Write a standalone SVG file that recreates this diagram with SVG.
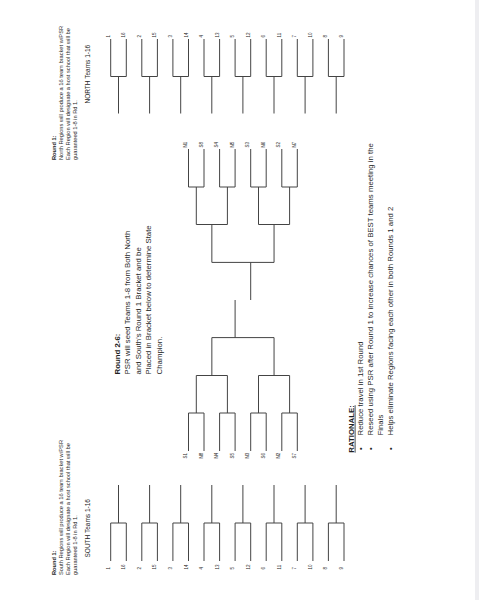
<svg xmlns="http://www.w3.org/2000/svg" width="479" height="600" viewBox="0 0 479 600">
<style>
text{font-family:"Liberation Sans",Arial,sans-serif;fill:#1f1f1f}
.lab{font-size:4.5px}
.sm{font-size:5.7px}
.team{font-size:6.5px}
.md{font-size:7.8px}
.b{font-weight:bold}
.ln{fill:none;stroke:#444;stroke-width:1}
</style>
<rect x="0" y="0" width="479" height="600" fill="#ffffff"/>
<rect x="475" y="0" width="4" height="600" fill="#eeeef1"/>

<g id="north-text">
<text class="sm b" transform="translate(55.5 160) rotate(-90)">Round 1:</text>
<text class="sm" transform="translate(62.5 160) rotate(-90)">North Regions will produce a 16 team bracket w/PSR</text>
<text class="sm" transform="translate(69.5 160) rotate(-90)">Each Region will designate a host school that will be</text>
<text class="sm" transform="translate(76.5 160) rotate(-90)">guaranteed 1-8 in Rd 1.</text>
<text class="team" transform="translate(90.3 103.5) rotate(-90)">NORTH Teams 1-16</text>
</g>

<g id="south-text">
<text class="sm b" transform="translate(55.5 575) rotate(-90)">Round 1:</text>
<text class="sm" transform="translate(62.5 575) rotate(-90)">South Regions will produce a 16 team bracket w/PSR</text>
<text class="sm" transform="translate(69.5 575) rotate(-90)">Each Region will designate a host school that will be</text>
<text class="sm" transform="translate(76.5 575) rotate(-90)">guaranteed 1-8 in Rd 1.</text>
<text class="team" transform="translate(90.3 557.5) rotate(-90)">SOUTH Teams 1-16</text>
</g>

<g id="round26-text">
<text class="md b" transform="translate(119.5 374.4) rotate(-90)">Round 2-6:</text>
<text class="md" transform="translate(130 374.4) rotate(-90)">PSR will seed Teams 1-8 from Both North</text>
<text class="md" transform="translate(140.5 374.4) rotate(-90)">and South's Round 1 Bracket and be</text>
<text class="md" transform="translate(151 374.4) rotate(-90)">Placed in Bracket below to determine State</text>
<text class="md" transform="translate(161.5 374.4) rotate(-90)">Champion.</text>
</g>

<g id="rationale">
<text class="md b" text-decoration="underline" transform="translate(353.7 452.7) rotate(-90)">RATIONALE:</text>
<text class="md" transform="translate(362.7 450) rotate(-90)">•</text>
<text class="md" transform="translate(362.7 435.5) rotate(-90)">Reduce travel in 1st Round</text>
<text class="md" transform="translate(372.7 450) rotate(-90)">•</text>
<text class="md" transform="translate(372.7 435.5) rotate(-90)">Reseed using PSR after Round 1 to increase chances of BEST teams meeting in the</text>
<text class="md" transform="translate(382.7 435.5) rotate(-90)">Finals</text>
<text class="md" transform="translate(392.7 450) rotate(-90)">•</text>
<text class="md" transform="translate(392.7 435.5) rotate(-90)">Helps eliminate Regions facing each other in both Rounds 1 and 2</text>
</g>

<g id="connectors">
<g id="north-bracket">
<path class="ln" d="M110.7 39V76.5H126.3V39M118.5 76.5V113.5"/>
<path class="ln" d="M141.8 39V76.5H157.4V39M149.6 76.5V113.5"/>
<path class="ln" d="M172.9 39V76.5H188.5V39M180.7 76.5V113.5"/>
<path class="ln" d="M204 39V76.5H219.6V39M211.8 76.5V113.5"/>
<path class="ln" d="M235.1 39V76.5H250.7V39M242.9 76.5V113.5"/>
<path class="ln" d="M266.2 39V76.5H281.8V39M274 76.5V113.5"/>
<path class="ln" d="M297.3 39V76.5H312.9V39M305.1 76.5V113.5"/>
<path class="ln" d="M328.4 39V76.5H344V39M336.2 76.5V113.5"/>
</g>
<g id="south-bracket">
<path class="ln" d="M110.7 561V523H126.3V561M118.5 523V485"/>
<path class="ln" d="M141.8 561V523H157.4V561M149.6 523V485"/>
<path class="ln" d="M172.9 561V523H188.5V561M180.7 523V485"/>
<path class="ln" d="M204 561V523H219.6V561M211.8 523V485"/>
<path class="ln" d="M235.1 561V523H250.7V561M242.9 523V485"/>
<path class="ln" d="M266.2 561V523H281.8V561M274 523V485"/>
<path class="ln" d="M297.3 561V523H312.9V561M305.1 523V485"/>
<path class="ln" d="M328.4 561V523H344V561M336.2 523V485"/>
</g>
<g id="center-top-bracket">
<path class="ln" d="M188.5 149V187H204V149M219.6 149V187H235.1V149M250.7 149V187H266.2V149M281.8 149V187H297.3V149"/>
<path class="ln" d="M196.3 187V224.5H227.4V187M258.5 187V224.5H289.6V187"/>
<path class="ln" d="M211.85 224.5V262.4H274.05V224.5"/>
<path class="ln" d="M250.7 262.4V300"/>
</g>
<g id="center-bottom-bracket">
<path class="ln" d="M188.5 451V413H204V451M219.6 451V413H235.1V451M250.7 451V413H266.2V451M281.8 451V413H297.3V451"/>
<path class="ln" d="M196.3 413V375.5H227.4V413M258.5 413V375.5H289.6V413"/>
<path class="ln" d="M211.85 375.5V337.6H274.05V375.5"/>
<path class="ln" d="M235.1 337.6V300"/>
</g>
</g>

<g id="north-labels" class="lab">
<text transform="translate(109.7 37.5) rotate(-90)">1</text>
<text transform="translate(125.3 37.5) rotate(-90)">16</text>
<text transform="translate(140.8 37.5) rotate(-90)">2</text>
<text transform="translate(156.4 37.5) rotate(-90)">15</text>
<text transform="translate(171.9 37.5) rotate(-90)">3</text>
<text transform="translate(187.5 37.5) rotate(-90)">14</text>
<text transform="translate(203 37.5) rotate(-90)">4</text>
<text transform="translate(218.6 37.5) rotate(-90)">13</text>
<text transform="translate(234.1 37.5) rotate(-90)">5</text>
<text transform="translate(249.7 37.5) rotate(-90)">12</text>
<text transform="translate(265.2 37.5) rotate(-90)">6</text>
<text transform="translate(280.8 37.5) rotate(-90)">11</text>
<text transform="translate(296.3 37.5) rotate(-90)">7</text>
<text transform="translate(311.9 37.5) rotate(-90)">10</text>
<text transform="translate(327.4 37.5) rotate(-90)">8</text>
<text transform="translate(343 37.5) rotate(-90)">9</text>
</g>
<g id="south-labels" class="lab">
<text transform="translate(109.7 569.5) rotate(-90)">1</text>
<text transform="translate(125.3 569.5) rotate(-90)">16</text>
<text transform="translate(140.8 569.5) rotate(-90)">2</text>
<text transform="translate(156.4 569.5) rotate(-90)">15</text>
<text transform="translate(171.9 569.5) rotate(-90)">3</text>
<text transform="translate(187.5 569.5) rotate(-90)">14</text>
<text transform="translate(203 569.5) rotate(-90)">4</text>
<text transform="translate(218.6 569.5) rotate(-90)">13</text>
<text transform="translate(234.1 569.5) rotate(-90)">5</text>
<text transform="translate(249.7 569.5) rotate(-90)">12</text>
<text transform="translate(265.2 569.5) rotate(-90)">6</text>
<text transform="translate(280.8 569.5) rotate(-90)">11</text>
<text transform="translate(296.3 569.5) rotate(-90)">7</text>
<text transform="translate(311.9 569.5) rotate(-90)">10</text>
<text transform="translate(327.4 569.5) rotate(-90)">8</text>
<text transform="translate(343 569.5) rotate(-90)">9</text>
</g>
<g id="center-top-labels" class="lab">
<text transform="translate(187 147.5) rotate(-90)">N1</text>
<text transform="translate(202.5 147.5) rotate(-90)">S8</text>
<text transform="translate(218.1 147.5) rotate(-90)">S4</text>
<text transform="translate(233.6 147.5) rotate(-90)">N5</text>
<text transform="translate(249.2 147.5) rotate(-90)">S3</text>
<text transform="translate(264.7 147.5) rotate(-90)">N6</text>
<text transform="translate(280.3 147.5) rotate(-90)">S2</text>
<text transform="translate(295.8 147.5) rotate(-90)">N7</text>
</g>
<g id="center-bottom-labels" class="lab">
<text transform="translate(187 458.5) rotate(-90)">S1</text>
<text transform="translate(202.5 458.5) rotate(-90)">N8</text>
<text transform="translate(218.1 458.5) rotate(-90)">N4</text>
<text transform="translate(233.6 458.5) rotate(-90)">S5</text>
<text transform="translate(249.2 458.5) rotate(-90)">N3</text>
<text transform="translate(264.7 458.5) rotate(-90)">S6</text>
<text transform="translate(280.3 458.5) rotate(-90)">N2</text>
<text transform="translate(295.8 458.5) rotate(-90)">S7</text>
</g>
</svg>
